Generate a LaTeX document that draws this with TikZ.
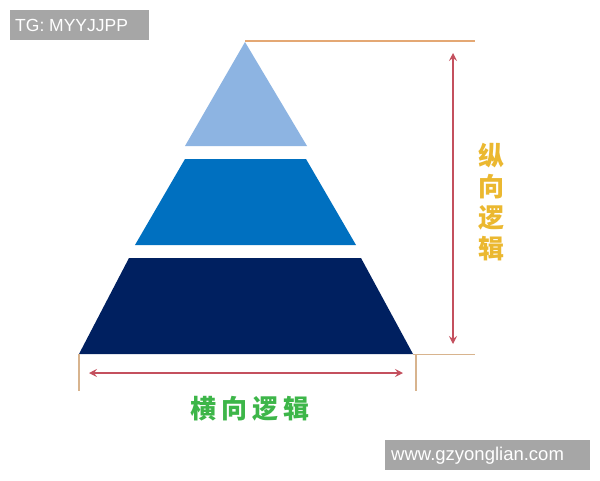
\documentclass[tikz,border=0pt]{standalone}
\usepackage{fontspec}
\setmainfont{Liberation Sans}
\newfontfamily\cjk{Noto Sans CJK SC}
\usetikzlibrary{arrows.meta}
\definecolor{boxgray}{HTML}{A6A6A6}
\definecolor{tierone}{HTML}{8DB4E2}
\definecolor{tiertwo}{HTML}{0070C0}
\definecolor{tierthree}{HTML}{002060}
\definecolor{topline}{HTML}{E4A874}
\definecolor{tanline}{HTML}{D8B48E}
\definecolor{arrowred}{HTML}{C4505E}
\definecolor{txtgreen}{HTML}{3DB649}
\definecolor{txtyellow}{HTML}{EBB830}
\begin{document}
\begin{tikzpicture}[x=1pt,y=-1pt,
  tagbox/.style={fill=boxgray,draw=none},
  tagtext/.style={text=white,inner sep=0pt,font=\fontsize{17.5}{20}\selectfont},
  guide/.style={line width=1.3pt},
  dimarrow/.style={draw=arrowred,line width=1.2pt,{Stealth[length=8pt,width=8pt,inset=3pt]}-{Stealth[length=8pt,width=8pt,inset=3pt]}},
  cjklabel/.style={inner sep=0pt,font=\cjk\bfseries\fontsize{26}{31}\selectfont}]
\useasboundingbox (0,0) rectangle (600,480);
\fill[white] (0,0) rectangle (600,480);
% watermark boxes
\fill[tagbox] (10,10) rectangle (149,40);
\node[tagtext,anchor=west] (tg) at (15,25.5) {TG: MYYJJPP};
\fill[tagbox] (385,440) rectangle (590,470);
\node[tagtext,anchor=west,font=\fontsize{18.5}{20}\selectfont] (www) at (391,455.5) {www.gzyonglian.com};
% pyramid
\fill[tierone] (245,42) -- (307,146) -- (185,146) -- cycle;
\fill[tiertwo] (185,159) -- (306,159) -- (356,245) -- (135,245) -- cycle;
\fill[tierthree] (129,258) -- (361,258) -- (413,354) -- (79,354) -- cycle;
% guide lines
\coordinate (apex) at (245,41);
\coordinate (topR) at (475,41);
\coordinate (baseR) at (413,354.5);
\coordinate (baseRR) at (475,354.5);
\draw[guide,topline] (apex) -- (topR);
\draw[guide,tanline] (baseR) -- (baseRR);
\coordinate (vl1) at (79,354);
\coordinate (vl2) at (79,391);
\coordinate (vr1) at (416,354);
\coordinate (vr2) at (416,391);
\draw[guide,tanline] (vl1) -- (vl2);
\draw[guide,tanline] (vr1) -- (vr2);
% dimension arrows
\coordinate (vt) at (453,53);
\coordinate (vb) at (453,344);
\draw[dimarrow] (vt) -- (vb);
\coordinate (hl) at (89,373);
\coordinate (hr) at (403,373);
\draw[dimarrow] (hl) -- (hr);
% labels
\node[cjklabel,text=txtgreen] (horiz) at (250,409) {横\hspace{5pt}向\hspace{5pt}逻\hspace{5pt}辑};
\node[cjklabel,text=txtyellow,align=center] (vert) at (491,202) {纵\\向\\逻\\辑};
\end{tikzpicture}
\end{document}
